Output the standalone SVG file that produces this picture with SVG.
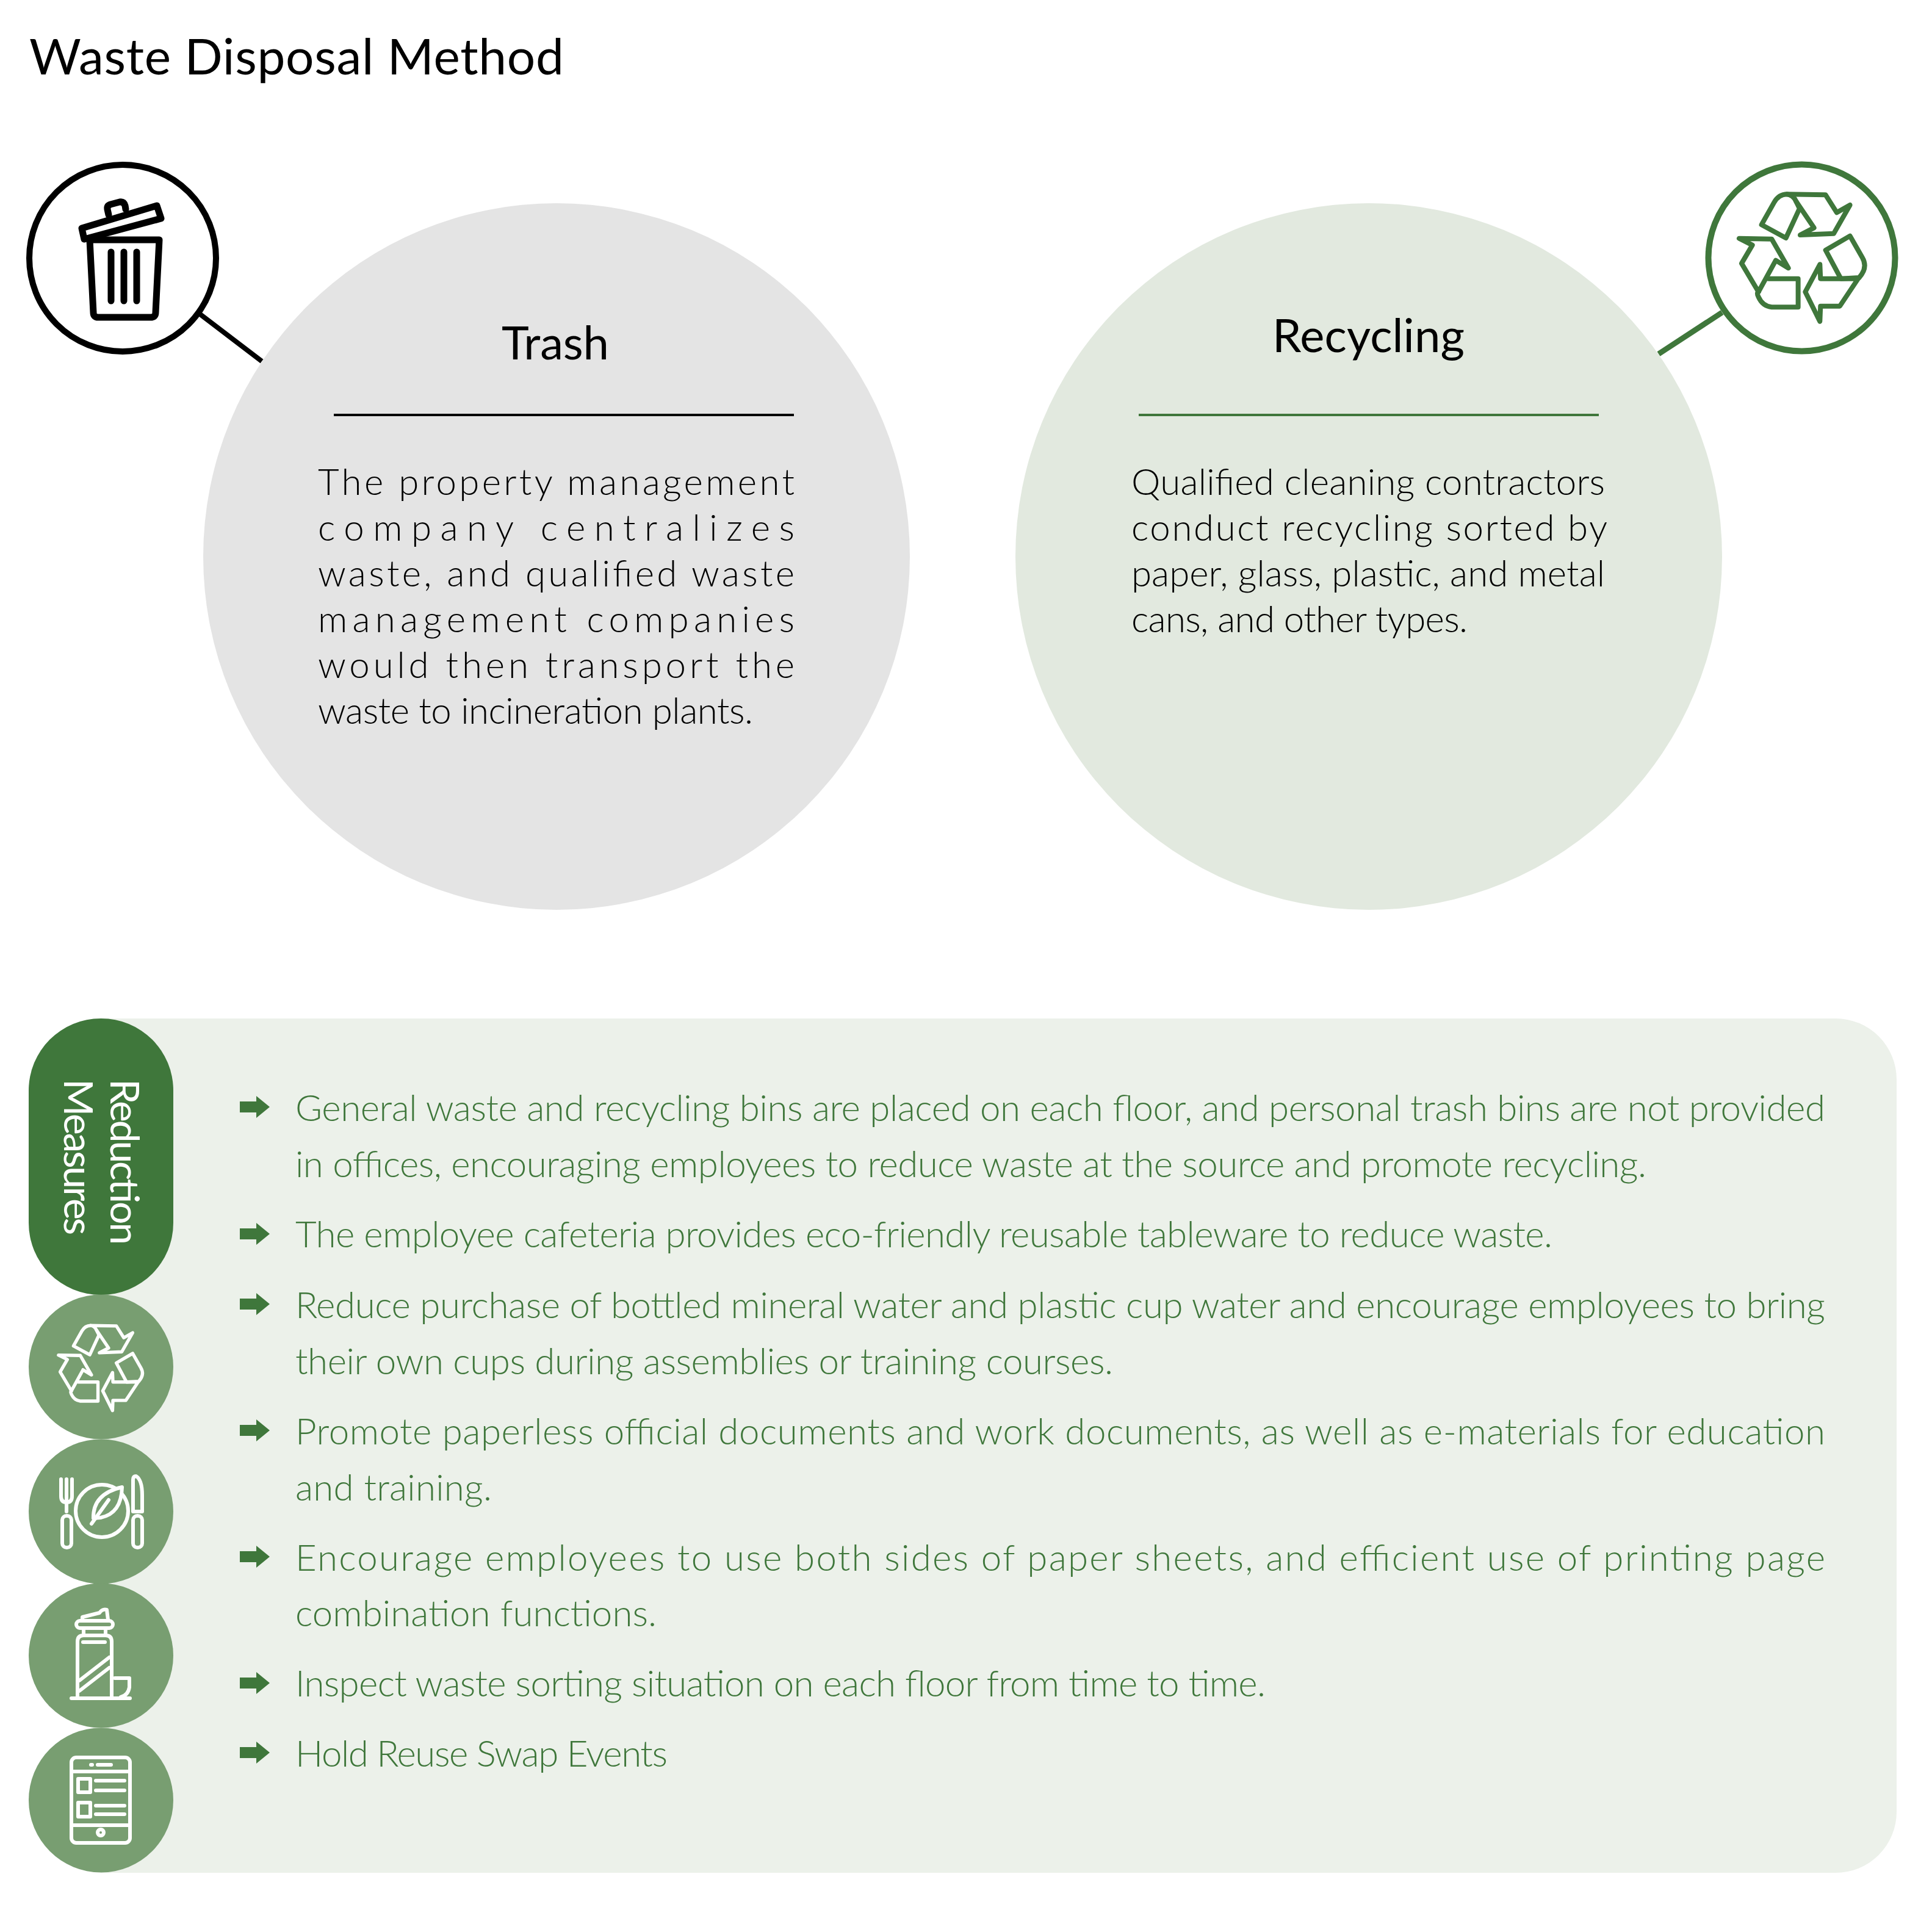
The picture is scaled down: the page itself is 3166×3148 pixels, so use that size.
<svg xmlns="http://www.w3.org/2000/svg" xmlns:xlink="http://www.w3.org/1999/xlink" width="3166" height="3148" viewBox="0 0 3166 3148">
<style>
text{font-family:"Lato","Noto Sans",sans-serif}
.title{font-size:82px;fill:#000}
.head{font-size:76px;fill:#000}
.body{font-size:60px;fill:#000;font-weight:300}
.item{font-size:60px;fill:#3f773b;font-weight:300}
.side{font-size:66px;fill:#fff;font-weight:400}
.icon{fill:none;stroke-linejoin:round;stroke-linecap:round}
.w{stroke:#fff;stroke-width:6}
.disc{fill:#789e71}
.arrow{fill:#3f773b}
</style>
<defs>
<g id="recycleGlyph" class="icon">
<path d="M710,415 L772,305 Q795,265 835,265 Q865,268 880,300 L897,335 L830,480 Z"/>
<path d="M835,265 L1025,268 L1080,355 L1145,318 L1065,458 L900,465 L968,430 L880,300"/>
<path d="M1025,540 L1145,470 L1205,575 Q1235,625 1190,675 L1100,680 Z"/>
<path d="M1185,680 L1000,680 L997,610 L925,745 L997,890 L1000,815 L1095,815 Z"/>
<path d="M600,482 L760,485 L842,628 L780,590 L695,745 L612,605 L665,515 Z"/>
<path d="M745,680 L890,680 L890,820 L760,820 Q715,815 695,770 Q685,750 695,745"/>
</g>
<path id="bullet" d="M393,-9 H420 V-18 L442,0 L420,18 V9 H393 Z"/>
</defs>

<rect width="3166" height="3148" fill="#fff"/>
<text id="page-title" class="title" x="48" y="122" textLength="876">Waste Disposal Method</text>

<g id="trash-circle">
<circle cx="912" cy="912" r="579" fill="#e4e4e4"/>
<text class="head" x="822" y="589" textLength="176">Trash</text>
<line x1="547" y1="680" x2="1301" y2="680" stroke="#000" stroke-width="4"/>
<text class="body" x="521" y="811" textLength="781">The property management</text>
<text class="body" x="521" y="886" textLength="781">company centralizes</text>
<text class="body" x="521" y="961" textLength="781">waste, and qualified waste</text>
<text class="body" x="521" y="1036" textLength="781">management companies</text>
<text class="body" x="521" y="1111" textLength="781">would then transport the</text>
<text class="body" x="521" y="1186" textLength="713">waste to incineration plants.</text>
</g>

<g id="recycling-circle">
<circle cx="2243" cy="912" r="579" fill="#e2e9df"/>
<text class="head" x="2085" y="577" textLength="315">Recycling</text>
<line x1="1866" y1="680" x2="2620" y2="680" stroke="#3f773b" stroke-width="4"/>
<text class="body" x="1854" y="811" textLength="776">Qualified cleaning contractors</text>
<text class="body" x="1854" y="886" textLength="780">conduct recycling sorted by</text>
<text class="body" x="1854" y="961" textLength="776">paper, glass, plastic, and metal</text>
<text class="body" x="1854" y="1036" textLength="551">cans, and other types.</text>
</g>

<g id="connectors">
<line x1="328" y1="515" x2="429" y2="592" stroke="#000" stroke-width="8"/>
<line x1="2718" y1="580" x2="2822" y2="512" stroke="#3f773b" stroke-width="9"/>
</g>

<g id="trash-icon">
<circle cx="201" cy="423" r="153" fill="#fff" stroke="#000" stroke-width="10"/>
<g class="icon" stroke="#000" stroke-width="11">
<path d="M147,393 H261 L255,512 Q255,520 247,520 H161 Q153,520 153,512 Z"/>
<path d="M134,374 L257,337 L264,358 L138,392 Z"/>
<path d="M178,352 L176,343 Q175,337 181,335 L196,331 Q203,330 205,337 L206,343"/>
<path d="M182,413 V493 M203,413 V493 M224,413 V493"/>
</g>
</g>

<g id="recycling-icon">
<circle cx="2952.5" cy="422.5" r="153" fill="#fff" stroke="#3f773b" stroke-width="10"/>
<use xlink:href="#recycleGlyph" href="#recycleGlyph" transform="translate(2650,230) scale(0.3333)" stroke="#3f773b" stroke-width="24"/>
</g>

<g id="reduction-panel">
<rect x="165" y="1669" width="2943" height="1400" rx="100" fill="#ecf1ea"/>
<path d="M165,1669 H300 V3069 H165 Z" fill="#ecf1ea"/>
<g transform="translate(0,1814)"><use xlink:href="#bullet" href="#bullet" class="arrow"/></g>
<g transform="translate(0,2022)"><use xlink:href="#bullet" href="#bullet" class="arrow"/></g>
<g transform="translate(0,2137)"><use xlink:href="#bullet" href="#bullet" class="arrow"/></g>
<g transform="translate(0,2344)"><use xlink:href="#bullet" href="#bullet" class="arrow"/></g>
<g transform="translate(0,2551)"><use xlink:href="#bullet" href="#bullet" class="arrow"/></g>
<g transform="translate(0,2758)"><use xlink:href="#bullet" href="#bullet" class="arrow"/></g>
<g transform="translate(0,2872)"><use xlink:href="#bullet" href="#bullet" class="arrow"/></g>
<text class="item" x="484" y="1837" textLength="2507">General waste and recycling bins are placed on each floor, and personal trash bins are not provided</text>
<text class="item" x="484" y="1929" textLength="2214">in offices, encouraging employees to reduce waste at the source and promote recycling.</text>
<text class="item" x="484" y="2044" textLength="2060">The employee cafeteria provides eco-friendly reusable tableware to reduce waste.</text>
<text class="item" x="484" y="2160" textLength="2507">Reduce purchase of bottled mineral water and plastic cup water and encourage employees to bring</text>
<text class="item" x="484" y="2252" textLength="1340">their own cups during assemblies or training courses.</text>
<text class="item" x="484" y="2367" textLength="2507">Promote paperless official documents and work documents, as well as e-materials for education</text>
<text class="item" x="484" y="2459" textLength="322">and training.</text>
<text class="item" x="484" y="2574" textLength="2507">Encourage employees to use both sides of paper sheets, and efficient use of printing page</text>
<text class="item" x="484" y="2665" textLength="592">combination functions.</text>
<text class="item" x="484" y="2780" textLength="1590">Inspect waste sorting situation on each floor from time to time.</text>
<text class="item" x="484" y="2895" textLength="610">Hold Reuse Swap Events</text>
</g>

<g id="reduction-label">
<rect x="47" y="1669" width="237" height="453" rx="118" fill="#3f773b"/>
<text class="side" transform="translate(181,1768) rotate(90)" textLength="272">Reduction</text>
<text class="side" transform="translate(105,1768) rotate(90)" textLength="256">Measures</text>
</g>

<g id="icon-recycle">
<circle class="disc" cx="165.5" cy="2240" r="118.5"/>
<use xlink:href="#recycleGlyph" href="#recycleGlyph" transform="translate(165,2242) scale(0.223) translate(-910,-578)" stroke="#fff" stroke-width="24"/>
</g>

<g id="icon-tableware">
<circle class="disc" cx="165.5" cy="2477" r="118.5"/>
<g class="icon w">
<path d="M100,2424 V2452 Q100,2462 109,2462 Q118,2462 118,2452 V2424 M109,2424 V2477"/>
<rect x="102" y="2484" width="15" height="52" rx="7"/>
<circle cx="167" cy="2476" r="43"/>
<path d="M153,2488 Q152,2448 200,2437 Q199,2480 165,2487 Z" fill="#789e71"/>
<path d="M150,2497 L178,2458"/>
<path d="M218,2477 V2425 Q218,2419 223,2419 Q233,2425 233,2450 V2477 Z"/>
<rect x="218" y="2484" width="15" height="52" rx="7"/>
</g>
</g>

<g id="icon-bottle">
<circle class="disc" cx="165.5" cy="2713" r="118.5"/>
<g class="icon w">
<path d="M117,2783 H213"/>
<path d="M127,2781 V2690 Q127,2680 137,2680 H173 Q183,2680 183,2690 V2781"/>
<path d="M136,2691 H172"/>
<path d="M137,2671 V2680 M173,2671 V2680"/>
<rect x="125" y="2656" width="60" height="12" rx="6"/>
<path d="M135,2654 V2650 L163,2643 Q168,2636 175,2638 L177,2654"/>
<path d="M130,2754 L179,2716 M130,2771 L179,2733"/>
<path d="M188,2750 H212 V2765 Q210,2778 198,2781"/>
</g>
</g>

<g id="icon-tablet">
<circle class="disc" cx="165.5" cy="2950" r="118.5"/>
<g class="icon w">
<rect x="117" y="2880" width="96" height="140" rx="8"/>
<path d="M117,2903 H213 M117,2991 H213"/>
<path d="M149,2892 H151 M160,2892 H182"/>
<rect x="128" y="2915" width="20" height="22"/>
<path d="M157,2918 H204 M157,2934 H204"/>
<rect x="128" y="2954" width="20" height="23"/>
<path d="M157,2959 H204 M157,2973 H204"/>
<circle cx="165" cy="3003" r="5"/>
</g>
</g>
</svg>
